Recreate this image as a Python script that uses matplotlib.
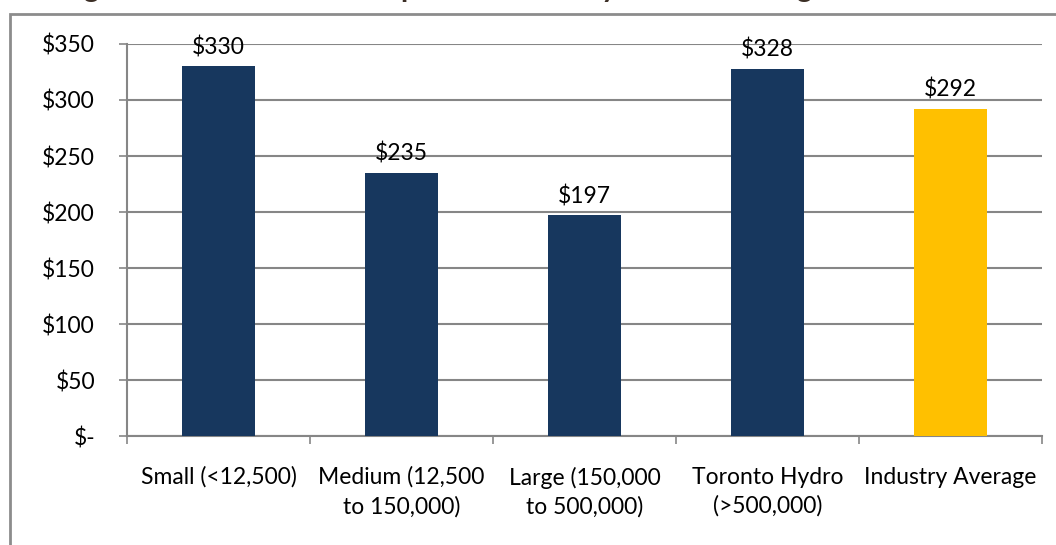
import matplotlib.pyplot as plt
from matplotlib.patches import Rectangle
import numpy as np

categories = ["Small (<12,500)", "Medium (12,500\nto 150,000)", "Large (150,000\nto 500,000)",
              "Toronto Hydro\n(>500,000)", "Industry Average"]
values = [330, 235, 197, 328, 292]
bar_colors = ["#17375E", "#17375E", "#17375E", "#17375E", "#FFC000"]
y_ticks = [0, 50, 100, 150, 200, 250, 300, 350]
y_tick_labels = ["$-", "$50", "$100", "$150", "$200", "$250", "$300", "$350"]
title = "Figure 4: Total O&M Cost per Customer by LDC Size Range"

plt.rcParams['font.family'] = ['Lato', 'DejaVu Sans']
FS = 16.5

W, H = 1056, 545
fig = plt.figure(figsize=(W / 100, H / 100), dpi=100)
fig.patch.set_facecolor("white")

# chart frame (extends past the right and bottom edges)
fig.patches.append(Rectangle((10 / W, -0.2), 1.2, (H - 14) / H + 0.2, transform=fig.transFigure,
                             fill=False, edgecolor="#8c8c8c", linewidth=2.0, zorder=0))
# title sits just above the frame, mostly beyond the top edge
fig.text(0.42, 1.0 + 2.5 / H, title, ha="center", va="baseline", fontsize=21, fontweight="bold",
         color="#3b2e25")

ax = fig.add_axes([127 / W, (H - 436) / H, (1042 - 127) / W, (436 - 44) / H])
x = np.arange(len(categories))
bars = ax.bar(x, values, width=0.4, color=bar_colors, zorder=3)
ax.set_xlim(-0.5, len(categories) - 0.5)
ax.set_ylim(0, 350)

ax.set_yticks(y_ticks)
ax.set_yticklabels(y_tick_labels, fontsize=FS)
ax.yaxis.grid(True, color="#868686", linewidth=1.5, zorder=0)
ax.tick_params(axis="y", length=6, width=1.2, color="#868686", pad=17)

ax.set_xticks(x)
ax.set_xticklabels(categories, fontsize=FS, linespacing=1.45)
ax.set_xticks(np.arange(len(categories) + 1) - 0.5, minor=True)
ax.tick_params(axis="x", which="major", length=0, pad=22)
ax.tick_params(axis="x", which="minor", length=6, width=1.2, color="#868686")

for s in ["top", "right"]:
    ax.spines[s].set_visible(False)
for s in ["left", "bottom"]:
    ax.spines[s].set_color("#868686")
    ax.spines[s].set_linewidth(1.5)

for b, v in zip(bars, values):
    ax.annotate(f"${v}", (b.get_x() + b.get_width() / 2, v), xytext=(0, 6),
                textcoords="offset points", ha="center", va="bottom", fontsize=FS)

fig.savefig("out.png", dpi=100)
